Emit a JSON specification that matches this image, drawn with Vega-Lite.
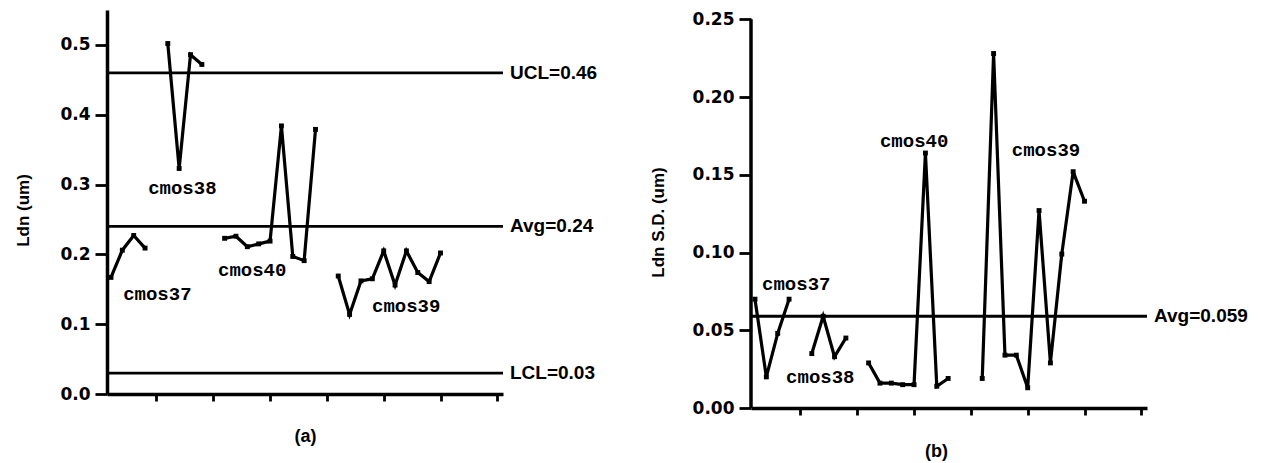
{
  "$schema": "https://vega.github.io/schema/vega-lite/v6.json",
  "background": "white",
  "padding": {"left": 14, "top": 10, "right": 0, "bottom": 0},
  "config": {
    "view": {"stroke": null},
    "concat": {"spacing": 51},
    "axis": {
      "domainColor": "black",
      "domainWidth": 3.5,
      "tickColor": "black",
      "tickWidth": 2.8,
      "grid": false,
      "labelColor": "black",
      "labelFont": "DejaVu Sans",
      "labelFontWeight": "bold",
      "labelFontSize": 17,
      "titleColor": "black",
      "titleFont": "Liberation Sans",
      "titleFontWeight": "bold",
      "titleFontSize": 17
    }
  },
  "datasets": {
    "ldn": [
      {"wafer": 1, "ldn": 0.167, "lot": "cmos37"},
      {"wafer": 2, "ldn": 0.206, "lot": "cmos37"},
      {"wafer": 3, "ldn": 0.227, "lot": "cmos37"},
      {"wafer": 4, "ldn": 0.209, "lot": "cmos37"},
      {"wafer": 6, "ldn": 0.502, "lot": "cmos38"},
      {"wafer": 7, "ldn": 0.323, "lot": "cmos38"},
      {"wafer": 8, "ldn": 0.486, "lot": "cmos38"},
      {"wafer": 9, "ldn": 0.472, "lot": "cmos38"},
      {"wafer": 11, "ldn": 0.223, "lot": "cmos40"},
      {"wafer": 12, "ldn": 0.226, "lot": "cmos40"},
      {"wafer": 13, "ldn": 0.211, "lot": "cmos40"},
      {"wafer": 14, "ldn": 0.215, "lot": "cmos40"},
      {"wafer": 15, "ldn": 0.219, "lot": "cmos40"},
      {"wafer": 16, "ldn": 0.384, "lot": "cmos40"},
      {"wafer": 17, "ldn": 0.197, "lot": "cmos40"},
      {"wafer": 18, "ldn": 0.191, "lot": "cmos40"},
      {"wafer": 19, "ldn": 0.379, "lot": "cmos40"},
      {"wafer": 21, "ldn": 0.169, "lot": "cmos39"},
      {"wafer": 22, "ldn": 0.114, "lot": "cmos39"},
      {"wafer": 23, "ldn": 0.162, "lot": "cmos39"},
      {"wafer": 24, "ldn": 0.165, "lot": "cmos39"},
      {"wafer": 25, "ldn": 0.205, "lot": "cmos39"},
      {"wafer": 26, "ldn": 0.156, "lot": "cmos39"},
      {"wafer": 27, "ldn": 0.205, "lot": "cmos39"},
      {"wafer": 28, "ldn": 0.174, "lot": "cmos39"},
      {"wafer": 29, "ldn": 0.161, "lot": "cmos39"},
      {"wafer": 30, "ldn": 0.202, "lot": "cmos39"}
    ],
    "ldnSD": [
      {"wafer": 1, "sd": 0.070, "lot": "cmos37"},
      {"wafer": 2, "sd": 0.020, "lot": "cmos37"},
      {"wafer": 3, "sd": 0.048, "lot": "cmos37"},
      {"wafer": 4, "sd": 0.070, "lot": "cmos37"},
      {"wafer": 6, "sd": 0.035, "lot": "cmos38"},
      {"wafer": 7, "sd": 0.059, "lot": "cmos38"},
      {"wafer": 8, "sd": 0.033, "lot": "cmos38"},
      {"wafer": 9, "sd": 0.045, "lot": "cmos38"},
      {"wafer": 11, "sd": 0.029, "lot": "cmos40"},
      {"wafer": 12, "sd": 0.016, "lot": "cmos40"},
      {"wafer": 13, "sd": 0.016, "lot": "cmos40"},
      {"wafer": 14, "sd": 0.015, "lot": "cmos40"},
      {"wafer": 15, "sd": 0.015, "lot": "cmos40"},
      {"wafer": 16, "sd": 0.164, "lot": "cmos40"},
      {"wafer": 17, "sd": 0.014, "lot": "cmos40"},
      {"wafer": 18, "sd": 0.019, "lot": "cmos40"},
      {"wafer": 21, "sd": 0.019, "lot": "cmos39"},
      {"wafer": 22, "sd": 0.228, "lot": "cmos39"},
      {"wafer": 23, "sd": 0.034, "lot": "cmos39"},
      {"wafer": 24, "sd": 0.034, "lot": "cmos39"},
      {"wafer": 25, "sd": 0.013, "lot": "cmos39"},
      {"wafer": 26, "sd": 0.127, "lot": "cmos39"},
      {"wafer": 27, "sd": 0.029, "lot": "cmos39"},
      {"wafer": 28, "sd": 0.099, "lot": "cmos39"},
      {"wafer": 29, "sd": 0.152, "lot": "cmos39"},
      {"wafer": 30, "sd": 0.133, "lot": "cmos39"}
    ],
    "limitsLdn": [
      {"name": "UCL", "value": 0.46, "label": "UCL=0.46"},
      {"name": "Avg", "value": 0.24, "label": "Avg=0.24"},
      {"name": "LCL", "value": 0.03, "label": "LCL=0.03"}
    ],
    "limitsSD": [
      {"name": "Avg", "value": 0.059, "label": "Avg=0.059"}
    ],
    "axisSpanSD": [
      {"wafer": 0.65, "from": 0, "to": 0.25}
    ],
    "lotNamesLdn": [
      {"wafer": 4.27, "value": 0.286, "lot": "cmos38"},
      {"wafer": 2.07, "value": 0.135, "lot": "cmos37"},
      {"wafer": 10.42, "value": 0.169, "lot": "cmos40"},
      {"wafer": 23.97, "value": 0.118, "lot": "cmos39"}
    ],
    "lotNamesSD": [
      {"wafer": 12.0, "value": 0.168, "lot": "cmos40"},
      {"wafer": 23.6, "value": 0.162, "lot": "cmos39"},
      {"wafer": 1.62, "value": 0.076, "lot": "cmos37"},
      {"wafer": 3.74, "value": 0.0163, "lot": "cmos38"}
    ]
  },
  "hconcat": [
    {
      "width": 396,
      "height": 384,
      "layer": [
        {
          "data": {"name": "ldn"},
          "mark": {
            "type": "line",
            "color": "black",
            "strokeWidth": 3.2,
            "point": {"filled": true, "color": "black", "shape": "square", "size": 24}
          },
          "encoding": {
            "x": {
              "field": "wafer",
              "type": "quantitative",
              "scale": {"domain": [0.65, 35.5], "nice": false, "zero": false},
              "axis": {
                "values": [5, 10, 15, 20, 25, 30, 35],
                "labels": false,
                "tickSize": 7,
                "title": "(a)",
                "titleFontSize": 18,
                "titlePadding": 25
              }
            },
            "y": {
              "field": "ldn",
              "type": "quantitative",
              "scale": {"domain": [0, 0.55], "nice": false},
              "axis": {
                "values": [0, 0.05, 0.1, 0.15, 0.2, 0.25, 0.3, 0.35, 0.4, 0.45, 0.5, 0.55],
                "labelExpr": "round(datum.value * 20) % 2 == 0 ? format(datum.value, '.1f') : ''",
                "labelFontSize": {"condition": {"test": "round(datum.value * 20) % 2 == 1", "value": 0}, "value": 17},
                "tickSize": {"condition": {"test": "round(datum.value * 20) % 2 == 0", "value": 12}, "value": 5},
                "labelPadding": 5,
                "title": "Ldn (um)",
                "titlePadding": 27,
                "titleY": 200
              }
            },
            "detail": {"field": "lot", "type": "nominal"}
          }
        },
        {
          "data": {"name": "limitsLdn"},
          "mark": {"type": "rule", "color": "black", "strokeWidth": 2.8},
          "encoding": {
            "y": {"field": "value", "type": "quantitative"}
          }
        },
        {
          "data": {"name": "limitsLdn"},
          "mark": {
            "type": "text",
            "align": "left",
            "baseline": "middle",
            "dx": 7,
            "font": "Liberation Sans",
            "fontWeight": "bold",
            "fontSize": 19,
            "color": "black"
          },
          "encoding": {
            "x": {"datum": 35.5, "type": "quantitative"},
            "y": {"field": "value", "type": "quantitative"},
            "text": {"field": "label"}
          }
        },
        {
          "data": {"name": "lotNamesLdn"},
          "mark": {
            "type": "text",
            "align": "left",
            "baseline": "alphabetic",
            "font": "Liberation Mono",
            "fontWeight": "bold",
            "fontSize": 19,
            "color": "black"
          },
          "encoding": {
            "x": {"field": "wafer", "type": "quantitative"},
            "y": {"field": "value", "type": "quantitative"},
            "text": {"field": "lot"}
          }
        }
      ]
    },
    {
      "width": 396,
      "height": 398,
      "layer": [
        {
          "data": {"name": "ldnSD"},
          "mark": {
            "type": "line",
            "color": "black",
            "strokeWidth": 3.2,
            "point": {"filled": true, "color": "black", "shape": "square", "size": 24}
          },
          "encoding": {
            "x": {
              "field": "wafer",
              "type": "quantitative",
              "scale": {"domain": [0.65, 35.5], "nice": false, "zero": false},
              "axis": {
                "values": [5, 10, 15, 20, 25, 30, 35],
                "labels": false,
                "tickSize": 7,
                "title": "(b)",
                "titleFontSize": 18,
                "titlePadding": 26,
                "titleX": 185
              }
            },
            "y": {
              "field": "sd",
              "type": "quantitative",
              "scale": {"domain": [0, 0.256], "nice": false},
              "axis": {
                "values": [0, 0.05, 0.1, 0.15, 0.2, 0.25],
                "format": ".2f",
                "domain": false,
                "tickSize": 12,
                "labelPadding": 5,
                "title": "Ldn S.D. (um)",
                "titlePadding": 25,
                "titleY": 212
              }
            },
            "detail": {"field": "lot", "type": "nominal"}
          }
        },
        {
          "data": {"name": "axisSpanSD"},
          "mark": {"type": "rule", "color": "black", "strokeWidth": 3.5},
          "encoding": {
            "x": {"field": "wafer", "type": "quantitative"},
            "y": {"field": "from", "type": "quantitative"},
            "y2": {"field": "to"}
          }
        },
        {
          "data": {"name": "limitsSD"},
          "mark": {"type": "rule", "color": "black", "strokeWidth": 2.8},
          "encoding": {
            "y": {"field": "value", "type": "quantitative"}
          }
        },
        {
          "data": {"name": "limitsSD"},
          "mark": {
            "type": "text",
            "align": "left",
            "baseline": "middle",
            "dx": 7,
            "font": "Liberation Sans",
            "fontWeight": "bold",
            "fontSize": 19,
            "color": "black"
          },
          "encoding": {
            "x": {"datum": 35.5, "type": "quantitative"},
            "y": {"field": "value", "type": "quantitative"},
            "text": {"field": "label"}
          }
        },
        {
          "data": {"name": "lotNamesSD"},
          "mark": {
            "type": "text",
            "align": "left",
            "baseline": "alphabetic",
            "font": "Liberation Mono",
            "fontWeight": "bold",
            "fontSize": 19,
            "color": "black"
          },
          "encoding": {
            "x": {"field": "wafer", "type": "quantitative"},
            "y": {"field": "value", "type": "quantitative"},
            "text": {"field": "lot"}
          }
        }
      ]
    }
  ]
}
